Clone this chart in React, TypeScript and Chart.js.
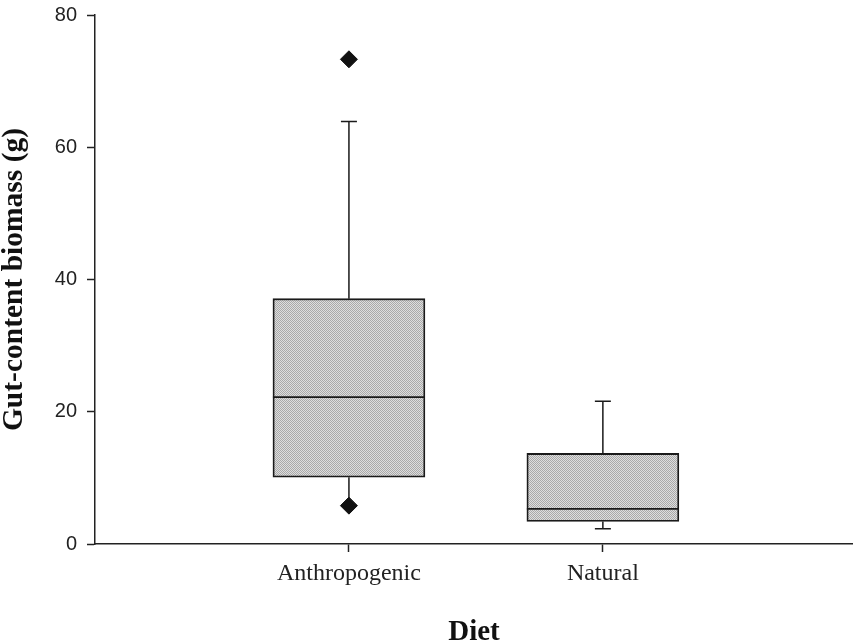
import React, { useEffect, useRef } from "react";
import { Chart, registerables } from "chart.js";

Chart.register(...registerables);

const categories = ["Anthropogenic", "Natural"];
const positions = [1, 2];
const q1 = [10.1, 3.4];
const median = [22.2, 5.3];
const q3 = [37.1, 13.7];
const whiskerLow = [5.8, 2.3];
const whiskerHigh = [63.9, 21.6];
const outliers = [
  { x: 1, y: 73.3 },
  { x: 1, y: 5.8 },
];
const yTicks = [0, 20, 40, 60, 80];

function makePattern(): CanvasPattern | string {
  const c = document.createElement("canvas");
  c.width = 2;
  c.height = 2;
  const g = c.getContext("2d");
  if (!g) return "#c2c2c2";
  g.fillStyle = "#dedede";
  g.fillRect(0, 0, 2, 2);
  g.fillStyle = "#a9a9a9";
  g.fillRect(0, 0, 1, 1);
  g.fillRect(1, 1, 1, 1);
  const p = g.createPattern(c, "repeat");
  return p || "#c2c2c2";
}

const whiskerPlugin = {
  id: "whiskers",
  beforeDatasetsDraw(chart: any) {
    const { ctx } = chart;
    const xs = chart.scales.x;
    const ys = chart.scales.y;
    ctx.save();
    ctx.strokeStyle = "#1a1a1a";
    ctx.lineWidth = 1.5;
    const capHalf = 8;
    positions.forEach((p, i) => {
      const x = xs.getPixelForValue(p);
      const yHi = ys.getPixelForValue(whiskerHigh[i]);
      const yQ3 = ys.getPixelForValue(q3[i]);
      const yLo = ys.getPixelForValue(whiskerLow[i]);
      const yQ1 = ys.getPixelForValue(q1[i]);
      ctx.beginPath();
      ctx.moveTo(x, yQ3);
      ctx.lineTo(x, yHi);
      ctx.moveTo(x - capHalf, yHi);
      ctx.lineTo(x + capHalf, yHi);
      ctx.moveTo(x, yQ1);
      ctx.lineTo(x, yLo);
      ctx.moveTo(x - capHalf, yLo);
      ctx.lineTo(x + capHalf, yLo);
      ctx.stroke();
    });
    ctx.restore();
  },
  afterDatasetsDraw(chart: any) {
    const { ctx } = chart;
    const ys = chart.scales.y;
    const meta = chart.getDatasetMeta(0);
    ctx.save();
    ctx.strokeStyle = "#1a1a1a";
    ctx.lineWidth = 1.8;
    meta.data.forEach((bar: any, i: number) => {
      const y = ys.getPixelForValue(median[i]);
      const half = bar.width / 2;
      ctx.beginPath();
      ctx.moveTo(bar.x - half, y);
      ctx.lineTo(bar.x + half, y);
      ctx.stroke();
    });
    ctx.restore();
  },
};

export default function App() {
  const ref = useRef<HTMLCanvasElement | null>(null);

  useEffect(() => {
    document.body.style.margin = "0";
    const canvas = ref.current;
    if (!canvas) return;
    const fill = makePattern();
    const chart = new Chart(canvas, {
      type: "bar",
      data: {
        datasets: [
          {
            type: "bar",
            data: positions.map((p, i) => ({ x: p, y: [q1[i], q3[i]] })) as any,
            backgroundColor: fill as any,
            borderColor: "#1a1a1a",
            borderWidth: 1.8,
            borderSkipped: false,
            barThickness: 152,
            order: 2,
          } as any,
          {
            type: "scatter",
            data: outliers as any,
            pointStyle: "rectRot",
            pointRadius: 8.5,
            backgroundColor: "#111",
            borderColor: "#111",
            borderWidth: 1,
            order: 1,
          } as any,
        ],
      },
      options: {
        animation: false,
        responsive: false,
        maintainAspectRatio: false,
        layout: { autoPadding: false, padding: { top: 15, right: 0, left: 0, bottom: 0 } },
        plugins: {
          legend: { display: false },
          tooltip: { enabled: false },
        },
        scales: {
          x: {
            type: "linear",
            min: 0,
            max: 2.985,
            offset: false,
            afterFit: (s: any) => {
              s.height = 99;
              s.paddingLeft = 0;
              s.paddingRight = 0;
            },
            afterBuildTicks: (s: any) => {
              s.ticks = positions.map((v) => ({ value: v }));
            },
            ticks: {
              callback: (v: any) => categories[positions.indexOf(Number(v))] ?? "",
              color: "#222",
              font: { family: "Liberation Serif", size: 24 },
              padding: 7,
              maxRotation: 0,
              autoSkip: false,
            },
            grid: {
              offset: false,
              drawOnChartArea: false,
              drawTicks: true,
              tickLength: 8,
              tickWidth: 1.5,
              tickColor: "#222",
            },
            border: { display: true, color: "#222", width: 1.5 },
            title: {
              display: true,
              text: "Diet",
              color: "#111",
              font: { family: "Liberation Serif", size: 29, weight: "bold", lineHeight: 0.7 },
              padding: { top: 0, bottom: 0 },
            },
          },
          y: {
            min: 0,
            max: 80,
            afterFit: (s: any) => {
              s.width = 95;
              s.paddingTop = 0;
              s.paddingBottom = 0;
            },
            afterBuildTicks: (s: any) => {
              s.ticks = yTicks.map((v) => ({ value: v }));
            },
            ticks: {
              color: "#222",
              font: { family: "Liberation Sans", size: 20 },
              padding: 10,
            },
            grid: {
              drawOnChartArea: false,
              drawTicks: true,
              tickLength: 8,
              tickWidth: 1.5,
              tickColor: "#222",
            },
            border: { display: true, color: "#222", width: 1.5 },
            title: {
              display: true,
              text: "Gut-content biomass (g)",
              color: "#111",
              font: { family: "Liberation Serif", size: 29.5, weight: "bold", lineHeight: 1 },
              padding: { top: 0, bottom: 0 },
            },
          },
        },
      },
      plugins: [whiskerPlugin],
    });
    return () => chart.destroy();
  }, []);

  return (
    <div style={{ position: "absolute", left: 0, top: 0, width: 853, height: 643, background: "#fff" }}>
      <canvas ref={ref} width={853} height={643} style={{ width: 853, height: 643, display: "block" }} />
    </div>
  );
}
